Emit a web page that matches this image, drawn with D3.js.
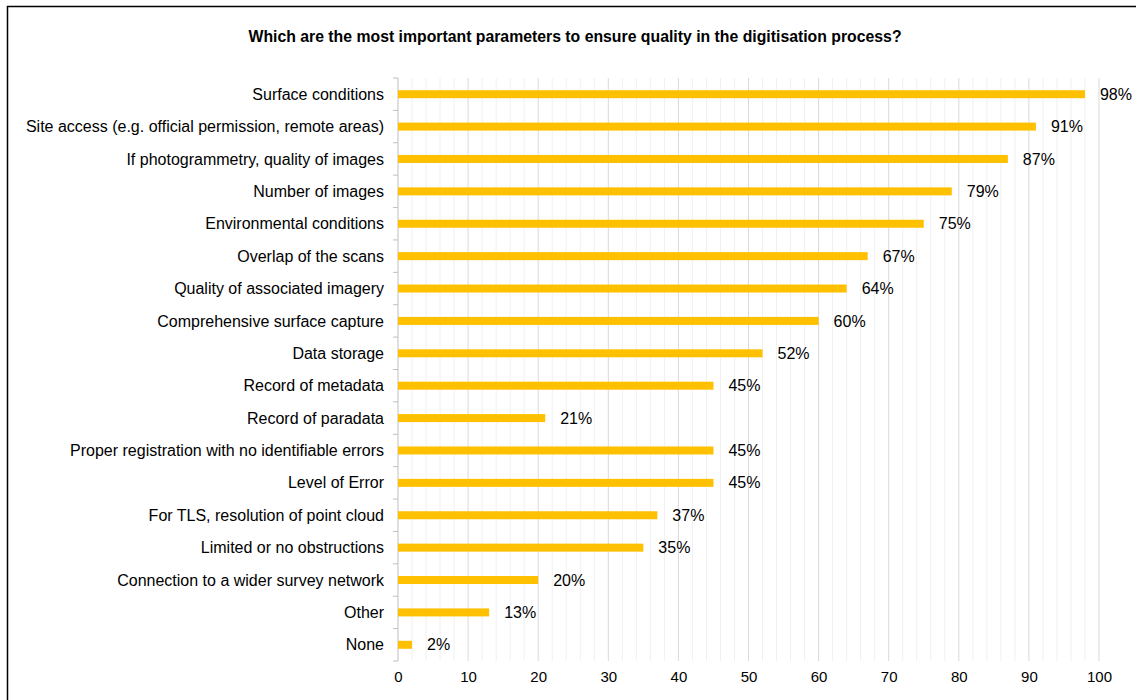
<!DOCTYPE html>
<html>
<head>
<meta charset="utf-8">
<script src="https://cdn.jsdelivr.net/npm/d3@7"></script>
<style>
  body { margin: 0; background: #fff; }
  svg { display: block; font-family: "Liberation Sans", Arial, sans-serif; }
</style>
</head>
<body>
<svg id="chart" width="1136" height="700"></svg>
<script>
const title = "Which are the most important parameters to ensure quality in the digitisation process?";
const categories = [
  "Surface conditions",
  "Site access (e.g. official permission, remote areas)",
  "If photogrammetry, quality of images",
  "Number of images",
  "Environmental conditions",
  "Overlap of the scans",
  "Quality of associated imagery",
  "Comprehensive surface capture",
  "Data storage",
  "Record of metadata",
  "Record of paradata",
  "Proper registration with no identifiable errors",
  "Level of Error",
  "For TLS, resolution of point cloud",
  "Limited or no obstructions",
  "Connection to a wider survey network",
  "Other",
  "None"
];
const values = [98, 91, 87, 79, 75, 67, 64, 60, 52, 45, 21, 45, 45, 37, 35, 20, 13, 2];
const xTicks = [0, 10, 20, 30, 40, 50, 60, 70, 80, 90, 100];
const minorTicks = d3.range(0, 101, 2);

const svg = d3.select("#chart");
const W = 1136, H = 700;
const margin = { left: 398, right: 37, top: 78, bottom: 39 };
const plotW = W - margin.left - margin.right;
const plotH = H - margin.top - margin.bottom;

// outer frame
svg.append("rect")
  .attr("x", 7.5).attr("y", 6.5)
  .attr("width", W + 10).attr("height", H + 10)
  .attr("fill", "none").attr("stroke", "#000").attr("stroke-width", 1.5);

svg.append("text")
  .attr("x", 575).attr("y", 42)
  .attr("text-anchor", "middle")
  .attr("font-size", 15.8).attr("font-weight", "bold")
  .attr("fill", "#000")
  .text(title);

const x = d3.scaleLinear().domain([0, 100]).range([0, plotW]);
const y = d3.scaleBand().domain(categories).range([0, plotH]);

const g = svg.append("g").attr("transform", `translate(${margin.left},${margin.top})`);

// minor gridlines
g.append("g").selectAll("line")
  .data(minorTicks.filter(d => d % 10 !== 0))
  .join("line")
  .attr("x1", d => x(d)).attr("x2", d => x(d))
  .attr("y1", 0).attr("y2", plotH)
  .attr("stroke", "#f0f0f0").attr("stroke-width", 1);

// major gridlines
g.append("g").selectAll("line")
  .data(xTicks.filter(d => d !== 0))
  .join("line")
  .attr("x1", d => x(d)).attr("x2", d => x(d))
  .attr("y1", 0).attr("y2", plotH)
  .attr("stroke", "#d9d9d9").attr("stroke-width", 1);

// y axis line with tick marks between categories
const yAxisG = g.append("g");
yAxisG.append("line")
  .attr("x1", 0).attr("x2", 0).attr("y1", 0).attr("y2", plotH)
  .attr("stroke", "#bfbfbf");
yAxisG.selectAll("line.tk")
  .data(d3.range(categories.length + 1))
  .join("line").attr("class", "tk")
  .attr("x1", -5).attr("x2", 0)
  .attr("y1", i => i * y.step()).attr("y2", i => i * y.step())
  .attr("stroke", "#bfbfbf");

// category labels
g.append("g").selectAll("text")
  .data(categories)
  .join("text")
  .attr("x", -14)
  .attr("y", d => y(d) + y.bandwidth() / 2)
  .attr("dy", "0.35em")
  .attr("text-anchor", "end")
  .attr("font-size", 16).attr("fill", "#000")
  .text(d => d);

// bars
const barH = 8;
g.append("g").selectAll("rect")
  .data(values)
  .join("rect")
  .attr("x", 0)
  .attr("y", (d, i) => y(categories[i]) + y.bandwidth() / 2 - barH / 2)
  .attr("width", d => x(d))
  .attr("height", barH)
  .attr("fill", "#FFC000");

// value labels
g.append("g").selectAll("text")
  .data(values)
  .join("text")
  .attr("x", d => x(d) + 15)
  .attr("y", (d, i) => y(categories[i]) + y.bandwidth() / 2)
  .attr("dy", "0.35em")
  .attr("font-size", 16).attr("fill", "#000")
  .text(d => d + "%");

// x axis labels
const xAxis = d3.axisBottom(x).tickValues(xTicks).tickSize(0).tickPadding(10);
const xg = g.append("g").attr("transform", `translate(0,${plotH})`).call(xAxis);
xg.select(".domain").remove();
xg.selectAll("text").attr("font-size", 15).attr("fill", "#000")
  .attr("font-family", "Liberation Sans, Arial, sans-serif");
</script>
</body>
</html>
